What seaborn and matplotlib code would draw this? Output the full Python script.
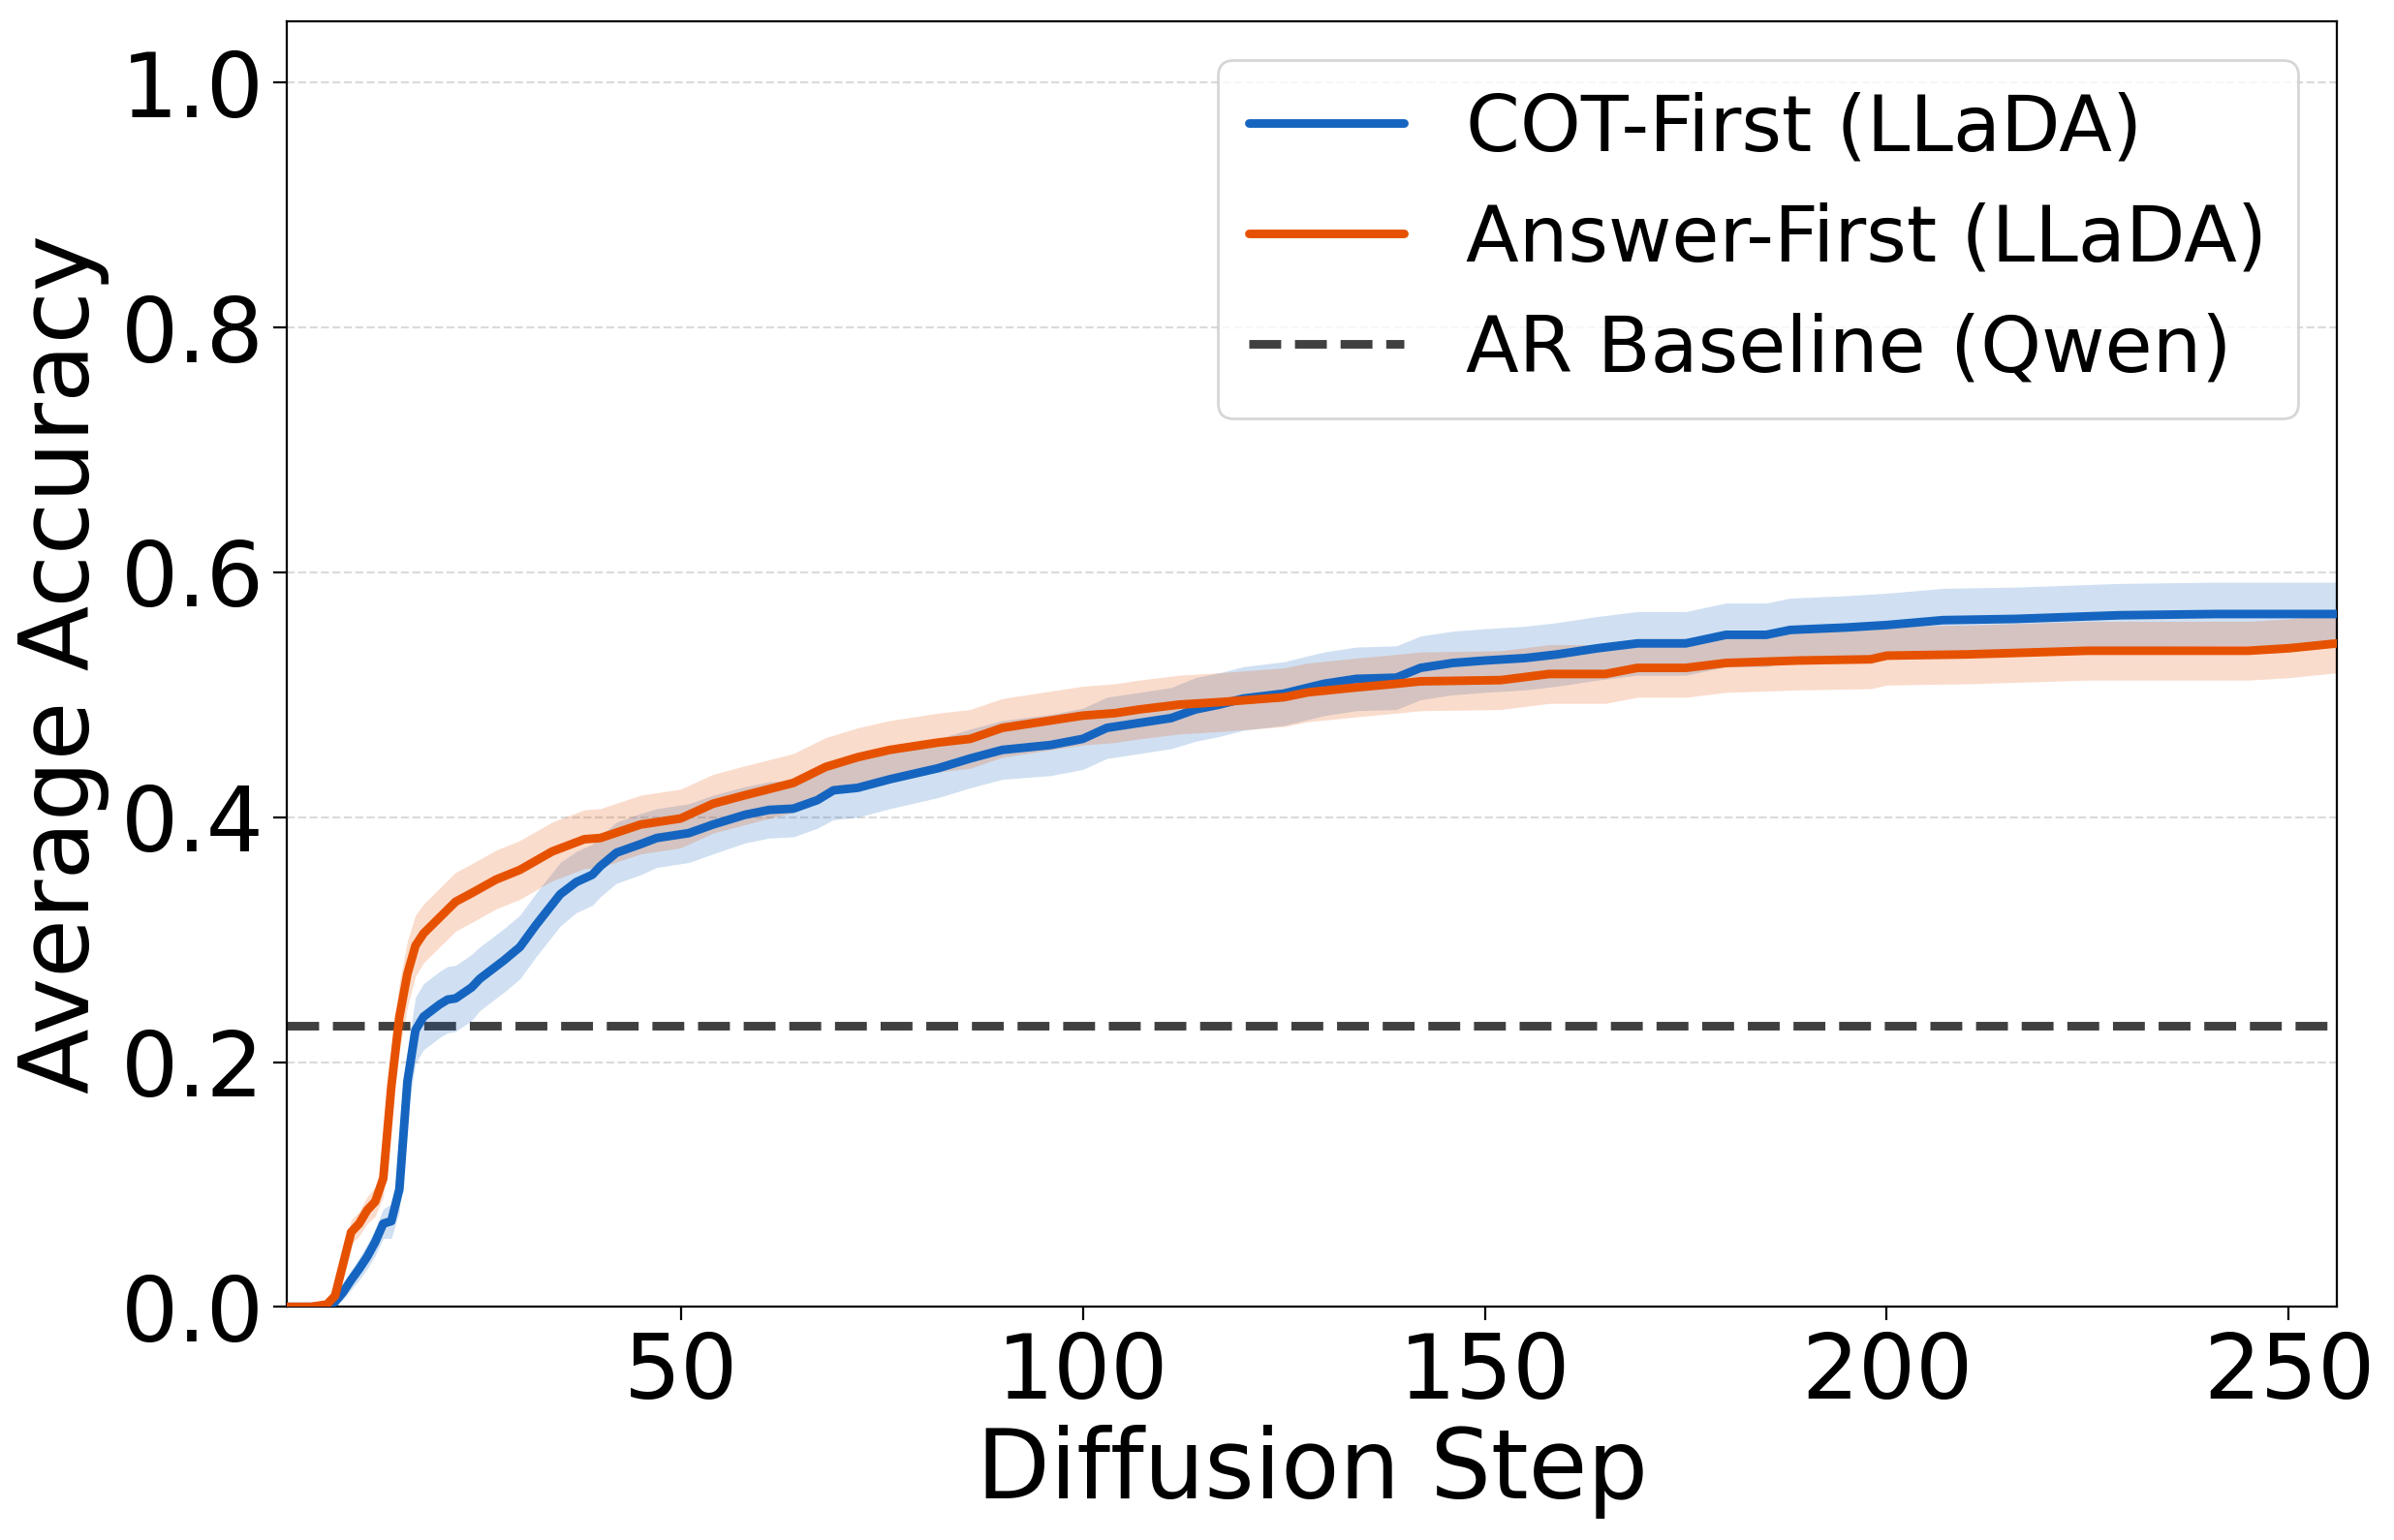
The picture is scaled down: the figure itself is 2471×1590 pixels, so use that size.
import numpy as np
import pandas as pd
import matplotlib
matplotlib.use("Agg")
import matplotlib.pyplot as plt
import seaborn as sns

# ---------------- data ----------------
cot_steps = [1, 2, 3, 4, 5, 6, 7, 8, 9, 10, 11, 12, 13, 14, 15, 16, 17, 18,
             20, 21, 22, 24, 25, 28, 30, 32,
             35, 37, 39, 40, 42, 45, 47, 51,
             54, 58, 61, 64, 67, 69, 72, 76,
             82, 86, 90, 96, 100, 103, 107, 111,
             114, 117, 120, 125, 130, 134, 139, 142,
             146, 150, 155, 159, 164, 169, 175, 180,
             185, 188, 195, 200, 207, 216, 229, 241,
             256]
cot_acc = [0, 0, 0, 0, 0, 0, 0.004, 0.012, 0.022, 0.031,
           0.041, 0.053, 0.068, 0.070, 0.096, 0.184, 0.226, 0.237,
           0.247, 0.251, 0.252, 0.261, 0.268, 0.283, 0.294, 0.312,
           0.337, 0.347, 0.353, 0.360, 0.371, 0.378, 0.383, 0.387,
           0.394, 0.402, 0.406, 0.407, 0.414, 0.422, 0.424, 0.431,
           0.440, 0.448, 0.455, 0.459, 0.464, 0.473, 0.477, 0.481,
           0.488, 0.492, 0.497, 0.501, 0.509, 0.513, 0.514, 0.522,
           0.526, 0.528, 0.530, 0.533, 0.538, 0.542, 0.542, 0.549,
           0.549, 0.553, 0.555, 0.557, 0.561, 0.562, 0.565, 0.566,
           0.566]
cot_band = [0, 0, 0, 0, 0, 0, 0.003, 0.006, 0.008, 0.009,
            0.010, 0.011, 0.012, 0.014, 0.018, 0.026, 0.027, 0.027,
            0.027, 0.027, 0.027, 0.027, 0.026, 0.026, 0.026, 0.026,
            0.026, 0.025, 0.025, 0.025, 0.025, 0.025, 0.024, 0.024,
            0.024, 0.023, 0.023, 0.023, 0.023, 0.024, 0.024, 0.024,
            0.024, 0.024, 0.024, 0.025, 0.025, 0.025, 0.025, 0.025,
            0.026, 0.026, 0.026, 0.026, 0.026, 0.026, 0.026, 0.026,
            0.026, 0.026, 0.026, 0.026, 0.026, 0.026, 0.026, 0.026,
            0.026, 0.026, 0.026, 0.026, 0.026, 0.026, 0.026, 0.026,
            0.026]

ans_steps = [1, 2, 3, 4, 5, 6, 7, 8, 9, 10, 11, 12, 13, 14, 15, 16, 17, 18,
             20, 22, 24, 27, 30, 34, 38, 40,
             45, 50, 54, 58, 64, 68, 72, 76,
             82, 86, 90, 94, 100, 104, 107, 112,
             117, 125, 128, 134, 139, 142, 152, 158,
             165, 169, 175, 180, 189, 198, 200, 210,
             225, 245, 250, 256]
ans_acc = [0, 0, 0, 0, 0.001, 0.002, 0.009, 0.035, 0.061, 0.068,
           0.079, 0.086, 0.105, 0.180, 0.237, 0.272, 0.295, 0.305,
           0.318, 0.331, 0.338, 0.349, 0.357, 0.372, 0.382, 0.383,
           0.394, 0.399, 0.411, 0.418, 0.428, 0.441, 0.449, 0.455,
           0.461, 0.464, 0.473, 0.477, 0.483, 0.485, 0.488, 0.492,
           0.494, 0.498, 0.502, 0.506, 0.509, 0.511, 0.512, 0.517,
           0.517, 0.522, 0.522, 0.526, 0.528, 0.529, 0.532, 0.533,
           0.536, 0.536, 0.538, 0.542]
ans_band = [0, 0, 0, 0, 0, 0, 0.004, 0.008, 0.010, 0.010,
            0.011, 0.012, 0.015, 0.022, 0.028, 0.027, 0.025, 0.024,
            0.024, 0.024, 0.024, 0.024, 0.024, 0.024, 0.024, 0.024,
            0.024, 0.024, 0.024, 0.024, 0.024, 0.024, 0.024, 0.024,
            0.024, 0.024, 0.024, 0.024, 0.024, 0.024, 0.024, 0.024,
            0.024, 0.024, 0.024, 0.024, 0.024, 0.024, 0.024, 0.024,
            0.024, 0.024, 0.024, 0.024, 0.024, 0.024, 0.024, 0.024,
            0.024, 0.024, 0.024, 0.024]

baseline_acc = 0.23

series_names = ["COT-First (LLaDA)", "Answer-First (LLaDA)"]
baseline_name = "AR Baseline (Qwen)"
y_ticks = [0.0, 0.2, 0.4, 0.6, 0.8, 1.0]
x_ticks = [50, 100, 150, 200, 250]

# ---------------- style ----------------
sns.set_style("ticks")
plt.rcParams["font.family"] = ["DejaVu Sans"]
plt.rcParams["text.color"] = "black"
plt.rcParams["axes.labelcolor"] = "black"
plt.rcParams["xtick.color"] = "black"
plt.rcParams["ytick.color"] = "black"

colors = {series_names[0]: "#1565C0", series_names[1]: "#E65100"}

fig, ax = plt.subplots(figsize=(12.355, 7.95), dpi=200)
fig.subplots_adjust(left=0.1198, right=0.9762, top=0.986, bottom=0.1514)

ax.yaxis.grid(True, linestyle="--", color="#cccccc", linewidth=0.8, alpha=0.7, zorder=0)
ax.set_axisbelow(True)

ax.axhline(baseline_acc, color="#404040", linestyle="--", linewidth=3.2,
           label=baseline_name, zorder=1.5)

for name, xs, ys, bw in [(series_names[0], cot_steps, cot_acc, cot_band),
                         (series_names[1], ans_steps, ans_acc, ans_band)]:
    xs = np.array(xs, dtype=float)
    ys = np.array(ys, dtype=float)
    bw = np.array(bw, dtype=float)
    ax.fill_between(xs, np.clip(ys - bw, 0, None), ys + bw,
                    color=colors[name], alpha=0.2, linewidth=0, zorder=2)
    df = pd.DataFrame({"step": xs, "acc": ys})
    sns.lineplot(data=df, x="step", y="acc", ax=ax, color=colors[name],
                 linewidth=3.2, label=name, zorder=3)

ax.set_xlim(1, 256)
ax.set_ylim(0, 1.05)
ax.set_xticks(x_ticks)
ax.set_yticks(y_ticks)
ax.set_yticklabels([f"{v:.1f}" for v in y_ticks])
ax.tick_params(axis="both", labelsize=33.5, length=5, width=0.8, color="black",
               labelcolor="black")
ax.set_xlabel("Diffusion Step", fontsize=35.5, labelpad=3, color="black")
ax.set_ylabel("Average Accuracy", fontsize=35.5, labelpad=4, color="black")

for s in ax.spines.values():
    s.set_visible(True)
    s.set_color("black")
    s.set_linewidth(0.8)

handles, labels = ax.get_legend_handles_labels()
order = [labels.index(series_names[0]), labels.index(series_names[1]),
         labels.index(baseline_name)]
leg = ax.legend([handles[i] for i in order], [labels[i] for i in order],
                loc="upper right", fontsize=28.8, frameon=True, fancybox=True,
                framealpha=0.8, edgecolor="0.8", labelspacing=0.45)
for t in leg.get_texts():
    t.set_color("black")

fig.savefig("out.png", dpi=200)
